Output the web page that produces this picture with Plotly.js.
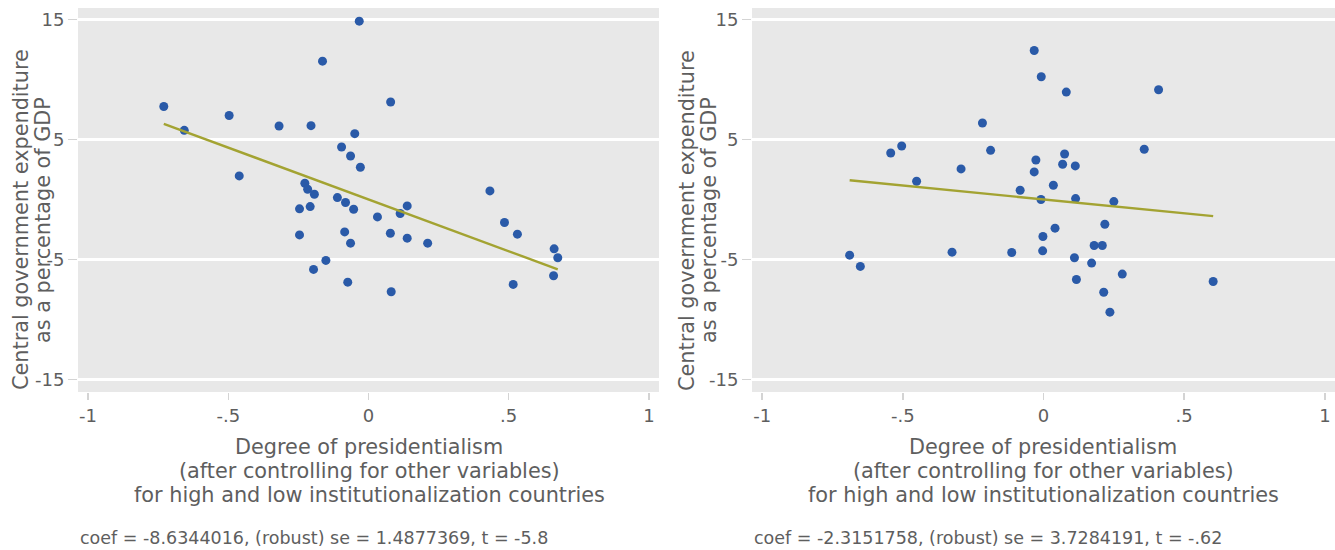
<!DOCTYPE html>
<html>
<head>
<meta charset="utf-8">
<script src="https://cdn.plot.ly/plotly-3.0.1.min.js"></script>
<style>html,body{margin:0;padding:0;background:#fff;}#chart{width:1335px;height:550px;}</style>
</head>
<body>
<div id="chart"></div>
<script>
// Left panel data (presidentialism residual vs expenditure residual)
var leftX = [-0.033,-0.164,-0.730,0.079,-0.497,-0.657,-0.319,-0.205,-0.049,-0.096,-0.064,-0.029,-0.461,-0.227,-0.217,-0.193,0.433,-0.111,-0.082,-0.246,-0.208,-0.053,0.138,0.113,0.032,0.485,0.531,-0.246,-0.085,0.078,-0.064,0.138,0.211,0.662,0.675,-0.152,-0.196,0.660,-0.074,0.516,0.081];
var leftY = [14.86,11.53,7.75,8.12,7.00,5.76,6.12,6.15,5.48,4.37,3.62,2.68,1.96,1.35,0.85,0.43,0.71,0.15,-0.26,-0.79,-0.60,-0.82,-0.54,-1.18,-1.46,-1.93,-2.90,-2.96,-2.71,-2.82,-3.65,-3.23,-3.65,-4.12,-4.87,-5.09,-5.84,-6.37,-6.90,-7.09,-7.70];
// Right panel data
var rightX = [-0.033,-0.008,0.081,0.409,-0.217,-0.504,-0.543,-0.188,0.358,0.075,-0.027,0.068,0.113,-0.293,-0.033,-0.451,0.035,-0.083,-0.009,0.114,0.250,0.218,0.041,-0.002,0.180,0.209,-0.325,-0.113,-0.003,-0.689,-0.651,0.110,0.171,0.280,0.117,0.603,0.214,0.236];
var rightY = [12.42,10.23,8.95,9.14,6.37,4.45,3.87,4.09,4.18,3.79,3.29,2.93,2.79,2.54,2.29,1.51,1.18,0.76,-0.01,0.07,-0.18,-2.07,-2.40,-3.09,-3.84,-3.84,-4.40,-4.43,-4.29,-4.65,-5.59,-4.87,-5.31,-6.23,-6.68,-6.85,-7.74,-9.40];

// Fitted line coefficients (slope from the printed coef, intercept)
var coefs = [-8.6344016, -2.3151758];
var intercepts = [0.0, 0.0];

var xTickVals = [-1,-0.5,0,0.5,1];
var xTickText = ['-1','-.5','0','.5','1'];
var yTickVals = [-15,-5,5,15];
var yTickText = ['-15','-5','5','15'];

var yTitleLines = ['Central government expenditure','as a percentage of GDP'];
var xTitleLines = ['Degree of presidentialism','(after controlling for other variables)','for high and low institutionalization countries'];
var notes = ['coef = -8.6344016, (robust) se = 1.4877369, t = -5.8','coef = -2.3151758, (robust) se = 3.7284191, t = -.62'];

function fitLine(xs, b, a){
  var x0 = Math.min.apply(null,xs), x1 = Math.max.apply(null,xs);
  return {x:[x0,x1], y:[a+b*x0, a+b*x1]};
}

var dotColor = '#2a5aa8';
var lineColor = '#a3a332';
var textColor = '#5e5e5e';
var FONT = 'DejaVu Sans, sans-serif';

var fl = fitLine(leftX,coefs[0],intercepts[0]), fr = fitLine(rightX,coefs[1],intercepts[1]);
var traces = [
  {x:leftX,y:leftY,type:'scatter',mode:'markers',marker:{color:dotColor,size:9},xaxis:'x',yaxis:'y'},
  {x:fl.x,y:fl.y,type:'scatter',mode:'lines',line:{color:lineColor,width:2.4},xaxis:'x',yaxis:'y'},
  {x:rightX,y:rightY,type:'scatter',mode:'markers',marker:{color:dotColor,size:9},xaxis:'x2',yaxis:'y2'},
  {x:fr.x,y:fr.y,type:'scatter',mode:'lines',line:{color:lineColor,width:2.4},xaxis:'x2',yaxis:'y2'}
];

var W = 1335, H = 550;
function px(x){return x/W;}
function py(y){return (H-y)/H;}

function xax(dom, anchor){
  return {domain:dom, anchor:anchor, range:[-1.036,1.036], tickvals:xTickVals, ticktext:xTickText,
    showgrid:false, zeroline:false, showline:false, ticks:'outside', ticklen:7, tickwidth:1.5, tickcolor:'#d4d4d4',
    tickfont:{family:FONT,size:18,color:textColor}, fixedrange:true};
}
function yax(anchor){
  return {domain:[py(392),py(8)], anchor:anchor, range:[-16.06,15.96], tickvals:yTickVals, ticktext:yTickText,
    showgrid:true, gridcolor:'#ffffff', gridwidth:2.5, zeroline:false, showline:false, ticks:'outside', ticklen:9, tickwidth:1.5, tickcolor:'#d4d4d4',
    tickfont:{family:FONT,size:18,color:textColor}, fixedrange:true};
}

var annotations = [];
var yTitleX = [[21,43],[687,709]];
var xTitleY = [447,471,495];
[[369,78],[1043,752]].forEach(function(p,i){
  yTitleLines.forEach(function(t,j){
    annotations.push({xref:'paper',yref:'paper',x:px(yTitleX[i][j]),y:py(220),text:t,showarrow:false,textangle:-90,
      font:{family:FONT,size:20.8,color:textColor},xanchor:'center',yanchor:'middle'});
  });
  xTitleLines.forEach(function(t,j){
    annotations.push({xref:'paper',yref:'paper',x:px(p[0]),y:py(xTitleY[j]),text:t,showarrow:false,
      font:{family:FONT,size:20.8,color:textColor},xanchor:'center',yanchor:'middle'});
  });
  annotations.push({xref:'paper',yref:'paper',x:px(p[1]),y:py(538),text:notes[i],showarrow:false,
    font:{family:FONT,size:17.5,color:textColor},xanchor:'left',yanchor:'middle'});
});

var layout = {
  width:W, height:H, margin:{l:0,r:0,t:0,b:0}, showlegend:false,
  paper_bgcolor:'#ffffff', plot_bgcolor:'#e8e8e8',
  xaxis: xax([px(78),px(659)],'y'),
  yaxis: yax('x'),
  xaxis2: xax([px(752),1],'y2'),
  yaxis2: yax('x2'),
  annotations: annotations
};

Plotly.newPlot('chart', traces, layout, {displayModeBar:false, staticPlot:true});
</script>
</body>
</html>
